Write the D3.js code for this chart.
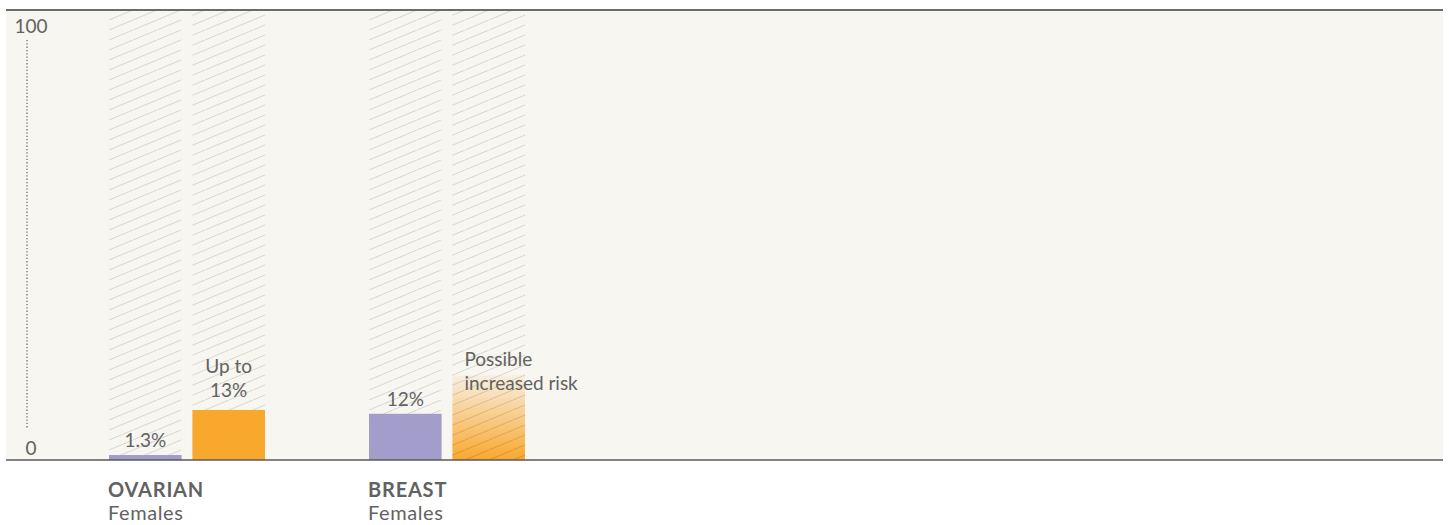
<!DOCTYPE html>
<html>
<head>
<meta charset="utf-8">
<script src="https://cdn.jsdelivr.net/npm/d3@7"></script>
<style>
  body { margin: 0; background: #fff; }
  svg text { font-family: Lato, "Noto Sans", sans-serif; fill: #626262; }
</style>
</head>
<body>
<svg id="chart" width="1449" height="525"></svg>
<script>
// data
const categories = ["OVARIAN", "BREAST"];
const subLabels = ["Females", "Females"];
const seriesKeys = ["general", "carrier"];
const generalValues = [1.3, 12];
const carrierValues = [13, 22];          // breast carrier value is a faded "possible" range
const carrierUncertain = [false, true];
const generalLabels = ["1.3%", "12%"];
const carrierLabels = [["Up to", "13%"], ["Possible", "increased risk"]];
const yTicks = [0, 100];

const plotLeft = 6, plotRight = 1443, plotTop = 10, plotBottom = 460;

const svg = d3.select("#chart");

// hatch + gradient defs
const defs = svg.append("defs");
const pat = defs.append("pattern")
  .attr("id", "hatch")
  .attr("patternUnits", "userSpaceOnUse")
  .attr("width", 24).attr("height", 10);
pat.append("path")
  .attr("d", "M-6,12.5 L30,-2.5")
  .attr("stroke", "rgba(0,0,0,0.13)")
  .attr("stroke-width", 1)
  .attr("fill", "none");

const grad = defs.append("linearGradient")
  .attr("id", "fade")
  .attr("x1", 0).attr("y1", 1).attr("x2", 0).attr("y2", 0);
grad.append("stop").attr("offset", "0%").attr("stop-color", "#f9a82e").attr("stop-opacity", 1);
grad.append("stop").attr("offset", "100%").attr("stop-color", "#f9a82e").attr("stop-opacity", 0.08);

// plot background
svg.append("rect")
  .attr("x", plotLeft).attr("y", plotTop)
  .attr("width", plotRight - plotLeft).attr("height", plotBottom - plotTop)
  .attr("fill", "#f7f6f1");

// scales
const x0 = d3.scaleBand().domain(categories).range([109, 629]).paddingInner(0);
const x1 = d3.scaleBand().domain(seriesKeys).range([0, 156]).paddingInner(0.13);
const y = d3.scaleLinear().domain([0, 100]).range([plotBottom, 75]);

const rows = categories.map((c, i) => ({
  cat: c,
  sub: subLabels[i],
  bars: [
    { key: "general", value: generalValues[i], label: [generalLabels[i]], uncertain: false },
    { key: "carrier", value: carrierValues[i], label: carrierLabels[i], uncertain: carrierUncertain[i] }
  ]
}));

const groups = svg.selectAll("g.group")
  .data(rows)
  .join("g")
  .attr("class", "group")
  .attr("transform", d => `translate(${x0(d.cat)},0)`);

// faded gradient bars go under the hatch
groups.selectAll("rect.fade")
  .data(d => d.bars.filter(b => b.uncertain))
  .join("rect")
  .attr("class", "fade")
  .attr("x", b => x1(b.key))
  .attr("width", x1.bandwidth())
  .attr("y", b => y(b.value))
  .attr("height", b => y(0) - y(b.value))
  .attr("fill", "url(#fade)");

// hatched columns at full height
groups.selectAll("rect.hatch")
  .data(d => d.bars)
  .join("rect")
  .attr("class", "hatch")
  .attr("x", b => x1(b.key))
  .attr("width", x1.bandwidth())
  .attr("y", plotTop + 1)
  .attr("height", plotBottom - plotTop - 1)
  .attr("fill", "url(#hatch)");

// solid bars
groups.selectAll("rect.bar")
  .data(d => d.bars.filter(b => !b.uncertain))
  .join("rect")
  .attr("class", "bar")
  .attr("x", b => x1(b.key))
  .attr("width", x1.bandwidth())
  .attr("y", b => y(b.value))
  .attr("height", b => y(0) - y(b.value))
  .attr("fill", b => b.key === "general" ? "#a29dcb" : "#f9a82e");

// value labels
groups.selectAll("text.val")
  .data(d => d.bars)
  .join("text")
  .attr("class", "val")
  .attr("font-size", 19)
  .attr("text-anchor", b => b.uncertain ? "start" : "middle")
  .attr("x", b => b.uncertain ? x1(b.key) + 12 : x1(b.key) + x1.bandwidth() / 2)
  .each(function(b) {
    const n = b.label.length;
    const base = b.uncertain ? y(b.value) + 15 : y(b.value) - (n > 1 ? 13 : 8);
    const tx = d3.select(this).attr("x");
    d3.select(this).selectAll("tspan")
      .data(b.label)
      .join("tspan")
      .attr("x", tx)
      .attr("y", (t, j) => base - (n - 1 - j) * 24)
      .text(t => t);
  });

// category labels below the baseline
groups.append("text")
  .attr("x", -1).attr("y", 497)
  .attr("font-size", 20).attr("font-weight", 700)
  .attr("letter-spacing", 0.8)
  .text(d => d.cat);
groups.append("text")
  .attr("x", -1).attr("y", 520)
  .attr("font-size", 20)
  .attr("letter-spacing", 0.6)
  .text(d => d.sub);

// y axis: dotted guide with end labels
svg.append("line")
  .attr("x1", 27).attr("x2", 27)
  .attr("y1", 40).attr("y2", 428)
  .attr("stroke", "#6f6f6f")
  .attr("stroke-width", 1.3)
  .attr("stroke-dasharray", "1.3,2");

svg.selectAll("text.tick")
  .data(yTicks)
  .join("text")
  .attr("class", "tick")
  .attr("font-size", 19)
  .attr("text-anchor", "middle")
  .attr("x", 31)
  .attr("y", t => t === 0 ? 455 : 33)
  .text(t => t);

// frame lines
svg.append("line")
  .attr("x1", plotLeft).attr("x2", plotRight)
  .attr("y1", plotTop).attr("y2", plotTop)
  .attr("stroke", "#6b6b6b").attr("stroke-width", 2);
svg.append("line")
  .attr("x1", plotLeft).attr("x2", plotRight)
  .attr("y1", plotBottom).attr("y2", plotBottom)
  .attr("stroke", "#5a5a5a").attr("stroke-width", 1.6);
</script>
</body>
</html>
